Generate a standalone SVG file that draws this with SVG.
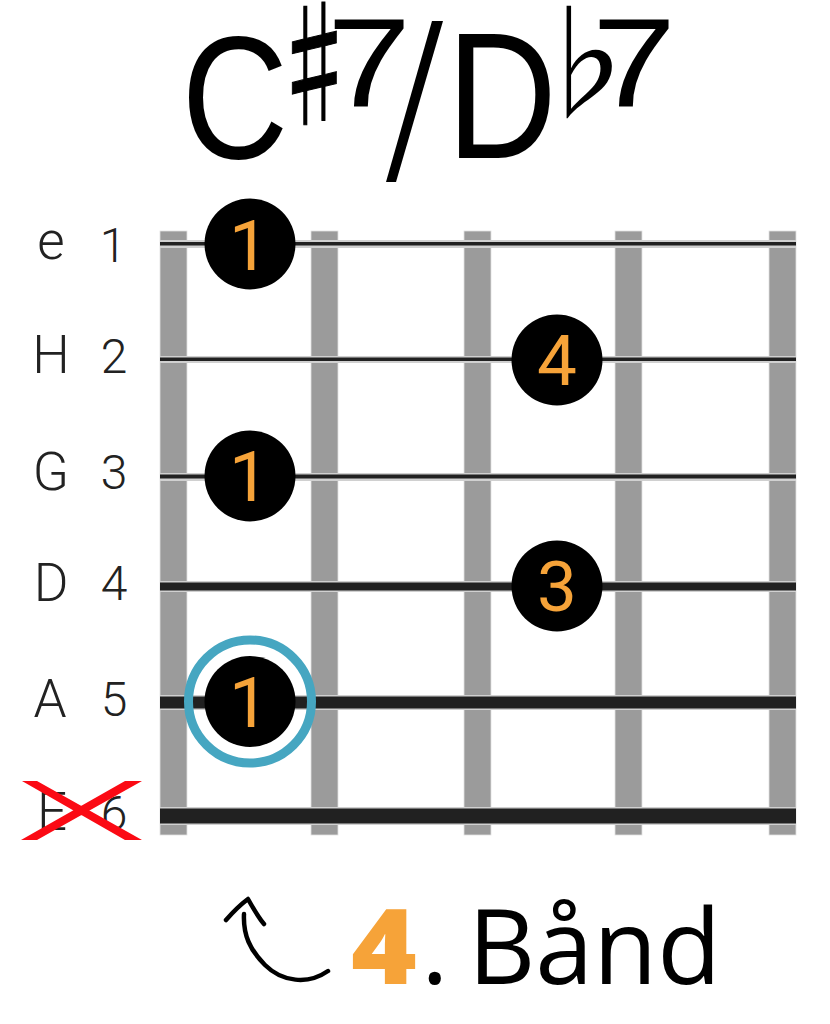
<svg xmlns="http://www.w3.org/2000/svg" width="830" height="1024" viewBox="0 0 830 1024">
<style>
.fret{fill:#9b9b9b;stroke:#e2e2e2;stroke-width:.8}
.halo{fill:#d0d0d0}
.str{fill:#212121}
.title{font-family:"Liberation Sans",Arial,sans-serif;fill:#000}
.acc{font-family:"Noto Sans CJK JP","DejaVu Sans",sans-serif;fill:#000;text-anchor:middle}
.lab{font-family:Roboto,"Liberation Sans",sans-serif;font-size:53px;font-weight:350;fill:#222;text-anchor:middle}
.num{font-family:Roboto,"Liberation Sans",sans-serif;font-size:48px;font-weight:350;fill:#222;text-anchor:middle}
.dot{fill:#000}
.fing{font-family:Roboto,"Liberation Sans",sans-serif;font-size:71px;fill:#f6a339;text-anchor:middle}
.cap{font-family:"Open Sans",sans-serif;font-size:105px;fill:#000}
</style>
<rect width="830" height="1024" fill="#fff"/>
<g id="title">
<text class="title" transform="translate(181.500 158) scale(.85 1)" font-size="174">C</text>
<text class="acc" transform="translate(314.500 117) scale(.65 1.080)" font-size="130" stroke="#000" stroke-width="1">♯</text>
<text class="title" transform="translate(327 107) scale(1.200 1)" font-size="126">7</text>
<text class="title" transform="translate(446.500 158) scale(.85 1)" font-size="180">D</text>
<text class="acc" transform="translate(584 111) scale(.9 1)" font-size="128">♭</text>
<text class="title" transform="translate(592 107) scale(1.200 1)" font-size="126">7</text>
<path d="M432 21 L443 21 L396 182 L386 182 Z" fill="#000"/>
</g>
<g id="frets">
<rect class="fret" x="160" y="231" width="27" height="604"/>
<rect class="fret" x="311" y="231" width="27" height="604"/>
<rect class="fret" x="464" y="231" width="27" height="604"/>
<rect class="fret" x="615" y="231" width="27" height="604"/>
<rect class="fret" x="769" y="231" width="27" height="604"/>
</g>
<g id="connectors">
<rect class="halo" x="160" y="240" width="636" height="8"/><rect class="str" x="160" y="242" width="636" height="3.500"/>
<rect class="halo" x="160" y="356" width="636" height="7"/><rect class="str" x="160" y="357.500" width="636" height="3.500"/>
<rect class="halo" x="160" y="473" width="636" height="8"/><rect class="str" x="160" y="474.500" width="636" height="4"/>
<rect class="halo" x="160" y="581" width="636" height="11"/><rect class="str" x="160" y="582.500" width="636" height="8"/>
<rect class="halo" x="160" y="695" width="636" height="15"/><rect class="str" x="160" y="696.500" width="636" height="12"/>
<rect class="halo" x="160" y="807" width="636" height="18"/><rect class="str" x="160" y="808.500" width="636" height="15"/>
</g>
<g id="string-labels">
<text class="lab" x="51" y="259">e</text><text class="num" x="113" y="262">1</text>
<text class="lab" x="51" y="373">H</text><text class="num" x="114" y="373">2</text>
<text class="lab" x="51" y="490">G</text><text class="num" x="114" y="489">3</text>
<text class="lab" x="51" y="601">D</text><text class="num" x="114" y="600">4</text>
<text class="lab" x="50" y="717">A</text><text class="num" x="114" y="716">5</text>
<text class="lab" x="52" y="830">E</text><text class="num" x="114" y="830">6</text>
</g>
<g id="mute-x"><path d="M22 781 L37 781 L142 840 L125 840 Z M125 781 L142 781 L37 840 L21 840 Z" fill="#fb0a14"/></g>
<g id="finger-e"><circle class="dot" cx="250" cy="244" r="45.500"/><text class="fing" x="249" y="270">1</text></g>
<g id="finger-h"><circle class="dot" cx="557" cy="360" r="45.500"/><text class="fing" x="557" y="385">4</text></g>
<g id="finger-g"><circle class="dot" cx="250" cy="476" r="45.500"/><text class="fing" x="249" y="501">1</text></g>
<g id="finger-d"><circle class="dot" cx="557" cy="586" r="45.500"/><text class="fing" x="557" y="611">3</text></g>
<g id="finger-a"><circle cx="250" cy="701.500" r="61.500" fill="none" stroke="#46a6c1" stroke-width="9"/><circle class="dot" cx="250" cy="701.500" r="45.500"/><text class="fing" x="249" y="727">1</text></g>
<g id="fret-label">
<path d="M226 920 C233 912 240 905 248 899 C253 908 258 917 264 924 M244 914 C243 935 250 950 265 965 C282 982 308 985 328 971" fill="none" stroke="#000" stroke-width="4.500" stroke-linecap="round" stroke-linejoin="round"/>
<text class="cap" transform="translate(351 984) scale(1.07 1)" font-weight="800" style="fill:#f6a339">4</text>
<text class="cap" y="984"><tspan x="421">.</tspan><tspan x="468" textLength="253" lengthAdjust="spacingAndGlyphs">Bånd</tspan></text>
</g>
</svg>
